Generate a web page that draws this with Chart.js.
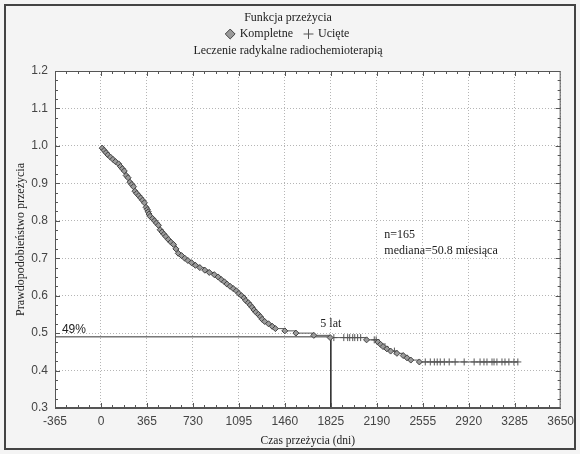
<!DOCTYPE html>
<html>
<head>
<meta charset="utf-8">
<script src="https://cdn.jsdelivr.net/npm/chart.js@4/dist/chart.umd.min.js"></script>
<style>
  html, body { margin: 0; padding: 0; background: #fff; }
  #wrap { position: relative; width: 580px; height: 454px; background: #f4f4f4; }
  #frame { position: absolute; left: 4px; top: 4px; width: 568px; height: 442px; border: 2px solid #444; pointer-events: none; }
  canvas { position: absolute; left: 0; top: 0; }
</style>
</head>
<body>
<div id="wrap">
  <canvas id="chart" width="580" height="454"></canvas>
  <div id="frame"></div>
</div>
<script>
// ------------------------------------------------------------
// Kaplan-Meier: survival after radical radiochemotherapy
// ------------------------------------------------------------

// axis ticks
const xTickValues = [-365, 0, 365, 730, 1095, 1460, 1825, 2190, 2555, 2920, 3285, 3650];
const yTickValues = [0.3, 0.4, 0.5, 0.6, 0.7, 0.8, 0.9, 1.0, 1.1, 1.2];

// complete observations (events): day, survival after event
const eventDays = [10, 25, 40, 55, 75, 95, 115, 140, 155, 170, 185, 200, 215, 230, 245, 258, 270, 284,
  300, 315, 330, 345, 358, 368, 375, 382, 390, 410, 425, 440, 456, 470, 485, 500, 515, 535,
  555, 575, 595, 614, 640, 665, 690, 719, 750, 785, 825, 860, 900, 930, 955, 980, 1000, 1025,
  1050, 1075, 1095, 1115, 1135, 1150, 1170, 1185, 1200, 1215, 1230, 1250, 1265, 1280, 1300,
  1330, 1360, 1385, 1460, 1548, 1690, 1820, 2109, 2200, 2220, 2240, 2270, 2300, 2350, 2400,
  2430, 2460, 2528];
const eventSurv = [0.994, 0.988, 0.982, 0.976, 0.970, 0.964, 0.958, 0.952, 0.945, 0.939, 0.933, 0.921,
  0.915, 0.903, 0.897, 0.891, 0.879, 0.873, 0.867, 0.861, 0.855, 0.848, 0.836, 0.830, 0.824,
  0.818, 0.812, 0.806, 0.800, 0.794, 0.788, 0.776, 0.770, 0.764, 0.758, 0.750, 0.743, 0.737,
  0.725, 0.713, 0.707, 0.700, 0.694, 0.688, 0.681, 0.675, 0.668, 0.662, 0.656, 0.650, 0.643,
  0.637, 0.631, 0.625, 0.619, 0.613, 0.606, 0.600, 0.594, 0.587, 0.581, 0.575, 0.569, 0.562,
  0.556, 0.550, 0.544, 0.537, 0.531, 0.525, 0.518, 0.512, 0.506, 0.500, 0.494, 0.488, 0.482,
  0.476, 0.470, 0.464, 0.458, 0.452, 0.446, 0.440, 0.434, 0.428, 0.423];

// censored observations: day, survival at censoring
const censDays = [1849, 1928, 1959, 1975, 1999, 2015, 2038, 2062, 2170, 2185, 2255, 2330,
  2575, 2615, 2647, 2670, 2694, 2726, 2765, 2812, 2884, 2963, 3010, 3041, 3065, 3105, 3121,
  3144, 3184, 3208, 3239, 3279, 3310];
const censSurv = [0.488, 0.488, 0.488, 0.488, 0.488, 0.488, 0.488, 0.488, 0.482, 0.482, 0.464, 0.452,
  0.423, 0.423, 0.423, 0.423, 0.423, 0.423, 0.423, 0.423, 0.423, 0.423, 0.423, 0.423, 0.423,
  0.423, 0.423, 0.423, 0.423, 0.423, 0.423, 0.423, 0.423];

// 5-year reference (49%)
const refDay = 1825;
const refSurv = 0.49;

const serif = "'Liberation Serif', 'Times New Roman', serif";
const sans = "'Liberation Sans', Arial, sans-serif";

const events = eventDays.map((d, i) => ({ x: d, y: eventSurv[i] }));
const censored = censDays.map((d, i) => ({ x: d, y: censSurv[i] }));
const curve = [{ x: 0, y: 1.0 }].concat(events, censored).sort((a, b) => a.x - b.x);

const decor = {
  id: "decor",
  beforeDraw(chart) {
    const { ctx, chartArea: a } = chart;
    ctx.save();
    ctx.fillStyle = "#ffffff";
    ctx.fillRect(a.left, a.top, a.right - a.left, a.bottom - a.top);
    ctx.restore();
  },
  afterDraw(chart) {
    const { ctx, chartArea: a, scales: { x, y } } = chart;
    ctx.save();
    ctx.strokeStyle = "#555";
    ctx.lineWidth = 1;
    ctx.strokeRect(a.left + 0.5, a.top + 0.5, a.right - a.left - 1, a.bottom - a.top - 1);

    // inward tick marks (major + minor)
    ctx.beginPath();
    for (let i = 0; i < xTickValues.length - 1; i++) {
      for (let k = 0; k < 4; k++) {
        const px = Math.round(x.getPixelForValue(xTickValues[i] + k * 365 / 4)) + 0.5;
        const len = k === 0 ? 5 : 3;
        ctx.moveTo(px, a.bottom); ctx.lineTo(px, a.bottom - len);
        ctx.moveTo(px, a.top); ctx.lineTo(px, a.top + len);
      }
    }
    for (let i = 0; i < yTickValues.length - 1; i++) {
      for (let k = 0; k < 4; k++) {
        const py = Math.round(y.getPixelForValue(yTickValues[i] + k * 0.025)) + 0.5;
        const len = k === 0 ? 5 : 3;
        ctx.moveTo(a.left, py); ctx.lineTo(a.left + len, py);
        ctx.moveTo(a.right, py); ctx.lineTo(a.right - len, py);
      }
    }
    ctx.stroke();

    // annotations
    ctx.fillStyle = "#222";
    ctx.textBaseline = "middle";
    ctx.font = "12px " + sans;
    ctx.textAlign = "left";
    ctx.fillText("49%", x.getPixelForValue(-310), y.getPixelForValue(0.51));
    ctx.font = "12px " + serif;
    ctx.textAlign = "center";
    ctx.fillText("5 lat", x.getPixelForValue(refDay), y.getPixelForValue(0.525));
    ctx.textAlign = "left";
    ctx.fillText("n=165", x.getPixelForValue(2250), y.getPixelForValue(0.762));
    ctx.fillText("mediana=50.8 miesiąca", x.getPixelForValue(2250), y.getPixelForValue(0.72));
    ctx.restore();
  }
};

new Chart(document.getElementById("chart"), {
  type: "scatter",
  data: {
    datasets: [
      {
        label: "Kompletne",
        data: events,
        pointStyle: "rectRot",
        pointRadius: 3,
        backgroundColor: "#9a9a9a",
        borderColor: "#444",
        borderWidth: 1,
        order: 1
      },
      {
        label: "Ucięte",
        data: censored,
        pointStyle: "cross",
        pointRadius: 3.5,
        backgroundColor: "#666",
        borderColor: "#555",
        borderWidth: 1,
        order: 1
      },
      {
        label: "curve",
        type: "line",
        data: curve,
        stepped: "before",
        borderColor: "#555",
        borderWidth: 1,
        pointRadius: 0,
        fill: false,
        order: 2
      },
      {
        label: "ref",
        type: "line",
        data: [{ x: -365, y: refSurv }, { x: refDay, y: refSurv }, { x: refDay, y: 0.3 }],
        borderColor: "#333",
        borderWidth: 1,
        pointRadius: 0,
        fill: false,
        order: 3
      }
    ]
  },
  options: {
    responsive: false,
    animation: false,
    layout: { padding: { top: 11, left: 12, right: 16, bottom: 0 } },
    plugins: {
      title: {
        display: true,
        text: "Funkcja przeżycia",
        color: "#222",
        font: { family: serif, size: 12, weight: "normal" },
        padding: { top: 0, bottom: -9.4 }
      },
      legend: {
        display: true,
        weight: 1800,
        maxHeight: 26,
        labels: {
          usePointStyle: true,
          boxWidth: 7,
          boxHeight: 7,
          padding: 12,
          color: "#222",
          font: { family: serif, size: 12 },
          filter: item => item.text === "Kompletne" || item.text === "Ucięte"
        }
      },
      subtitle: {
        display: true,
        text: "Leczenie radykalne radiochemioterapią",
        color: "#222",
        font: { family: serif, size: 12 },
        padding: { top: 1.8, bottom: 12.8 }
      },
      tooltip: { enabled: false }
    },
    scales: {
      x: {
        type: "linear",
        min: -365,
        max: 3650,
        afterFit: s => { s.height = 46; },
        afterBuildTicks: s => { s.ticks = xTickValues.map(v => ({ value: v })); },
        ticks: {
          autoSkip: false,
          maxRotation: 0,
          padding: 6,
          color: "#444",
          font: { family: sans, size: 12 },
          callback: v => String(v)
        },
        grid: { color: "#b5b5b5", drawTicks: false },
        border: { display: true, color: "#555", dash: [1, 2] },
        title: {
          display: true,
          text: "Czas przeżycia (dni)",
          color: "#222",
          font: { family: serif, size: 11.5 },
          padding: { top: 0, bottom: 6 }
        }
      },
      y: {
        type: "linear",
        min: 0.3,
        max: 1.2,
        afterFit: s => { s.width = 43; },
        afterBuildTicks: s => { s.ticks = yTickValues.map(v => ({ value: v })); },
        ticks: {
          padding: 7,
          color: "#444",
          font: { family: sans, size: 12 },
          callback: v => v.toFixed(1)
        },
        grid: { color: "#b5b5b5", drawTicks: false },
        border: { display: true, color: "#555", dash: [1, 2] },
        title: {
          display: true,
          text: "Prawdopodobieństwo przeżycia",
          color: "#222",
          font: { family: serif, size: 12 },
          padding: { top: 2, bottom: 0 }
        }
      }
    }
  },
  plugins: [decor]
});
</script>
</body>
</html>
